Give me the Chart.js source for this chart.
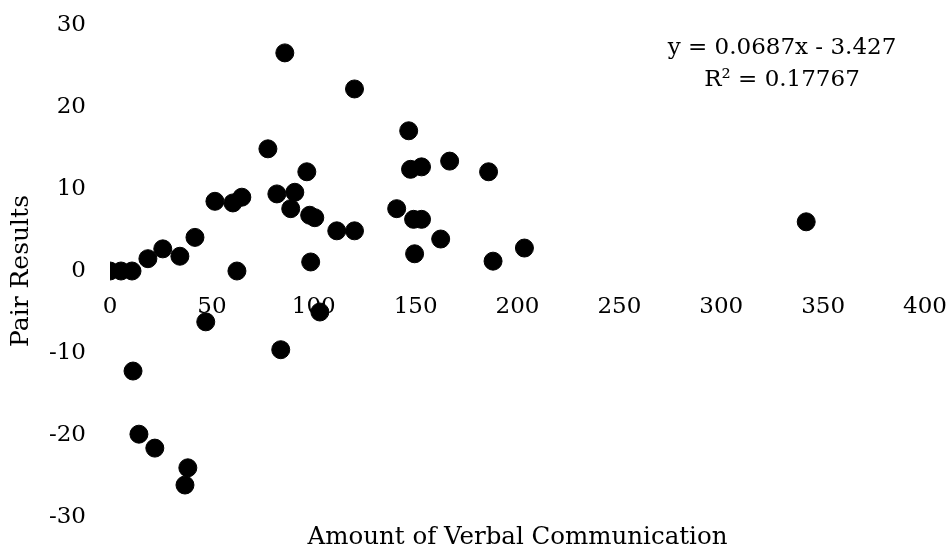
<!DOCTYPE html>
<html>
<head>
<meta charset="utf-8">
<script src="https://cdn.jsdelivr.net/npm/chart.js@4/dist/chart.umd.min.js"></script>
<style>
  html, body { margin: 0; padding: 0; background: #fff; }
  #wrap { width: 949px; height: 551px; position: relative; }
</style>
</head>
<body>
<div id="wrap"><canvas id="chart"></canvas></div>
<script>
// amount of verbal communication (x) vs pair results (y)
const verbal = [0, 5.4, 10.8, 18.6, 25.9, 34.3, 41.7, 51.5, 60.3, 64.7, 62.3, 47, 11.3, 14.2, 22, 38.2, 36.8,
    85.8, 77.5, 81.9, 90.7, 88.7, 96.6, 98, 100.5, 98.5, 83.8, 103, 111.3, 120, 120,
    146.6, 147.5, 152.9, 166.7, 185.8, 140.7, 149, 152.9, 162.3, 149.5, 188, 203.4, 341.7];
const pairResults = [0, 0, 0, 1.5, 2.7, 1.8, 4.1, 8.5, 8.3, 9.0, 0, -6.2, -12.2, -19.9, -21.6, -24, -26.1,
    26.6, 14.9, 9.4, 9.6, 7.6, 12.1, 6.8, 6.5, 1.1, -9.6, -5, 4.9, 4.9, 22.2,
    17.1, 12.4, 12.7, 13.4, 12.1, 7.6, 6.3, 6.3, 3.9, 2.1, 1.2, 2.8, 6.0];
const equationLines = ['y = 0.0687x - 3.427', 'R\u00b2 = 0.17767'];
const xTitle = 'Amount of Verbal Communication';
const yTitle = 'Pair Results';

const FONT = '"DejaVu Serif", serif';

const points = verbal.map((x, i) => ({ x: x, y: pairResults[i] }));

// extra text: x axis title and trendline equation
const textPlugin = {
    id: 'extraText',
    afterDraw(chart) {
        const ctx = chart.ctx;
        const area = chart.chartArea;
        ctx.save();
        ctx.fillStyle = '#000';
        ctx.textAlign = 'center';
        ctx.textBaseline = 'middle';
        ctx.font = '24.5px ' + FONT;
        ctx.fillText(xTitle, (area.left + area.right) / 2, 538);
        ctx.font = '23px ' + FONT;
        ctx.fillText(equationLines[0], 782, 48);
        ctx.fillText(equationLines[1], 782, 80);
        ctx.restore();
    }
};

new Chart(document.getElementById('chart'), {
    type: 'scatter',
    data: {
        datasets: [{
            data: points,
            backgroundColor: '#000',
            borderColor: '#000',
            pointRadius: 9,
            pointHoverRadius: 9,
            borderWidth: 1
        }]
    },
    options: {
        responsive: true,
        maintainAspectRatio: false,
        animation: false,
        layout: { padding: { top: 25, right: 24, bottom: 34, left: 6 } },
        plugins: {
            legend: { display: false },
            tooltip: { enabled: false }
        },
        scales: {
            x: {
                type: 'linear',
                position: { y: 0 },
                min: 0, max: 400,
                // invisible tick marks used as the label gap
                grid: { display: false, drawTicks: true, tickLength: 22 },
                border: { display: false },
                ticks: {
                    stepSize: 50,
                    padding: 0,
                    color: '#000',
                    font: { family: FONT, size: 23 }
                }
            },
            y: {
                type: 'linear',
                min: -30, max: 30,
                grid: { display: false, drawTicks: true, tickLength: 24 },
                border: { display: false },
                ticks: {
                    stepSize: 10,
                    padding: 0,
                    color: '#000',
                    font: { family: FONT, size: 23 }
                },
                title: {
                    display: true,
                    text: yTitle,
                    color: '#000',
                    font: { family: FONT, size: 25 },
                    padding: 0
                },
                afterFit(scale) { scale.width = 104; }
            }
        }
    },
    plugins: [textPlugin]
});
</script>
</body>
</html>
